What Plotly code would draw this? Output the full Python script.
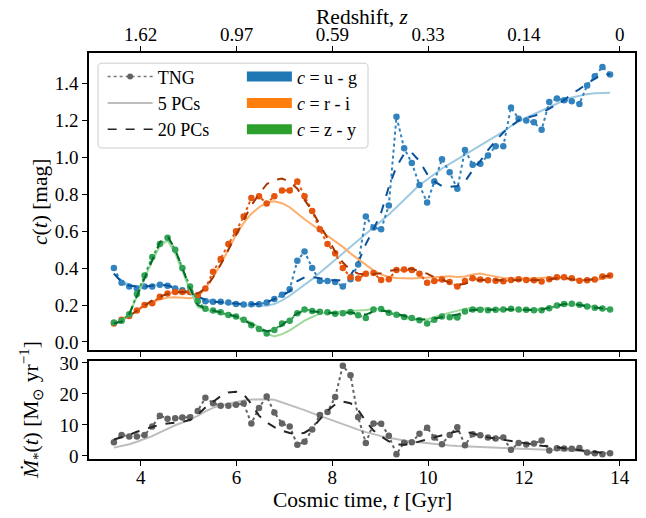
import plotly.graph_objects as go

# Cosmic time grid of the TNG snapshots (Gyr)
t_gyr = [3.44, 3.60, 3.76, 3.92, 4.08, 4.24, 4.40, 4.56, 4.72, 4.87,
         5.03, 5.19, 5.35, 5.51, 5.67, 5.83, 5.99, 6.15, 6.31, 6.47,
         6.63, 6.79, 6.95, 7.11, 7.27, 7.42, 7.58, 7.74, 7.90, 8.06,
         8.22, 8.38, 8.54, 8.70, 8.86, 9.02, 9.18, 9.34, 9.50, 9.66,
         9.82, 9.98, 10.13, 10.29, 10.45, 10.61, 10.77, 10.93, 11.09, 11.25,
         11.41, 11.57, 11.73, 11.89, 12.05, 12.21, 12.37, 12.53, 12.69, 12.84,
         13.00, 13.16, 13.32, 13.48, 13.64, 13.80]

# u - g colour
ug_tng = [0.40, 0.32, 0.30, 0.29, 0.30, 0.30, 0.31, 0.305, 0.29, 0.28,
          0.27, 0.245, 0.22, 0.218, 0.217, 0.213, 0.206, 0.203, 0.204, 0.204,
          0.214, 0.232, 0.256, 0.285, 0.44, 0.49, 0.40, 0.33, 0.33, 0.325,
          0.30, 0.34, 0.42, 0.68, 0.62, 0.61, 0.74, 1.22, 1.05, 0.97,
          0.85, 0.755, 0.87, 0.99, 0.92, 0.83, 1.04, 0.96, 0.965, 1.01,
          1.06, 1.06, 1.27, 1.21, 1.20, 1.19, 1.15, 1.30, 1.32, 1.31,
          1.305, 1.29, 1.39, 1.44, 1.49, 1.45]
ug_pc5 = [0.37, 0.33, 0.31, 0.30, 0.30, 0.305, 0.31, 0.305, 0.29, 0.275,
          0.26, 0.245, 0.232, 0.222, 0.214, 0.207, 0.202, 0.198, 0.196, 0.195,
          0.196, 0.205, 0.225, 0.25, 0.28, 0.31, 0.34, 0.375, 0.41, 0.445,
          0.48, 0.515, 0.55, 0.585, 0.62, 0.655, 0.69, 0.73, 0.77, 0.81,
          0.85, 0.88, 0.91, 0.94, 0.965, 0.99, 1.015, 1.04, 1.065, 1.09,
          1.115, 1.14, 1.17, 1.195, 1.215, 1.235, 1.255, 1.275, 1.295, 1.31,
          1.325, 1.335, 1.343, 1.348, 1.35, 1.35]
ug_pc20 = [0.37, 0.325, 0.305, 0.30, 0.30, 0.305, 0.31, 0.305, 0.295, 0.28,
           0.265, 0.245, 0.228, 0.218, 0.214, 0.21, 0.207, 0.205, 0.204, 0.207,
           0.215, 0.232, 0.25, 0.275, 0.33, 0.35, 0.352, 0.345, 0.337, 0.333,
           0.335, 0.36, 0.43, 0.53, 0.61, 0.70, 0.84, 0.95, 1.02, 1.025,
           0.98, 0.91, 0.87, 0.845, 0.84, 0.845, 0.87, 0.93, 0.98, 1.04,
           1.09, 1.135, 1.17, 1.20, 1.215, 1.225, 1.24, 1.264, 1.29, 1.31,
           1.345, 1.37, 1.40, 1.425, 1.452, 1.45]

# r - i colour
ri_tng = [0.10, 0.12, 0.14, 0.17, 0.20, 0.21, 0.245, 0.262, 0.27, 0.27,
          0.27, 0.253, 0.29, 0.38, 0.45, 0.53, 0.60, 0.68, 0.78, 0.79,
          0.75, 0.79, 0.82, 0.82, 0.87, 0.79, 0.71, 0.61, 0.53, 0.48,
          0.40, 0.35, 0.343, 0.37, 0.374, 0.335, 0.34, 0.39, 0.392, 0.39,
          0.37, 0.32, 0.33, 0.338, 0.325, 0.30, 0.33, 0.345, 0.338, 0.334,
          0.332, 0.329, 0.335, 0.34, 0.336, 0.334, 0.328, 0.34, 0.35, 0.35,
          0.345, 0.332, 0.334, 0.338, 0.355, 0.36]
ri_pc5 = [0.10, 0.115, 0.14, 0.17, 0.195, 0.215, 0.23, 0.24, 0.242, 0.24,
          0.236, 0.245, 0.29, 0.35, 0.42, 0.50, 0.58, 0.645, 0.695, 0.73,
          0.755, 0.762, 0.752, 0.73, 0.695, 0.665, 0.635, 0.605, 0.575, 0.545,
          0.515, 0.48, 0.45, 0.415, 0.388, 0.365, 0.352, 0.347, 0.344, 0.343,
          0.346, 0.349, 0.352, 0.355, 0.356, 0.352, 0.355, 0.365, 0.37, 0.362,
          0.354, 0.347, 0.343, 0.343, 0.343, 0.345, 0.348, 0.349, 0.349, 0.345,
          0.338, 0.334, 0.334, 0.335, 0.342, 0.349]
ri_pc20 = [0.10, 0.115, 0.14, 0.17, 0.20, 0.225, 0.245, 0.26, 0.268, 0.27,
           0.268, 0.262, 0.29, 0.35, 0.42, 0.50, 0.58, 0.66, 0.74, 0.80,
           0.855, 0.878, 0.885, 0.868, 0.83, 0.77, 0.71, 0.635, 0.565, 0.49,
           0.43, 0.39, 0.37, 0.365, 0.368, 0.372, 0.385, 0.392, 0.397, 0.396,
           0.385, 0.37, 0.35, 0.335, 0.32, 0.308, 0.315, 0.328, 0.336, 0.337,
           0.335, 0.334, 0.336, 0.338, 0.336, 0.334, 0.335, 0.338, 0.345, 0.348,
           0.34, 0.334, 0.336, 0.34, 0.352, 0.36]

# z - y colour
zy_tng = [0.105, 0.115, 0.15, 0.26, 0.36, 0.46, 0.53, 0.565, 0.50, 0.40,
          0.30, 0.22, 0.18, 0.17, 0.16, 0.146, 0.137, 0.12, 0.09, 0.07,
          0.045, 0.065, 0.10, 0.115, 0.155, 0.175, 0.168, 0.163, 0.16, 0.152,
          0.155, 0.162, 0.145, 0.13, 0.175, 0.178, 0.158, 0.147, 0.135, 0.13,
          0.117, 0.10, 0.12, 0.138, 0.133, 0.132, 0.165, 0.176, 0.174, 0.172,
          0.174, 0.176, 0.179, 0.176, 0.174, 0.172, 0.172, 0.182, 0.197, 0.205,
          0.207, 0.202, 0.192, 0.185, 0.181, 0.176]
zy_pc5 = [0.10, 0.11, 0.15, 0.25, 0.35, 0.44, 0.52, 0.55, 0.48, 0.38,
          0.28, 0.19, 0.175, 0.165, 0.155, 0.145, 0.133, 0.12, 0.105, 0.08,
          0.045, 0.03, 0.042, 0.062, 0.09, 0.115, 0.135, 0.153, 0.16, 0.162,
          0.163, 0.166, 0.17, 0.173, 0.18, 0.18, 0.163, 0.148, 0.13, 0.121,
          0.12, 0.122, 0.135, 0.148, 0.158, 0.168, 0.18, 0.184, 0.183, 0.181,
          0.179, 0.177, 0.175, 0.173, 0.172, 0.174, 0.178, 0.185, 0.193, 0.20,
          0.203, 0.203, 0.197, 0.188, 0.181, 0.176]
zy_pc20 = [0.10, 0.11, 0.15, 0.25, 0.35, 0.45, 0.54, 0.575, 0.50, 0.40,
           0.29, 0.20, 0.18, 0.17, 0.16, 0.148, 0.138, 0.12, 0.095, 0.075,
           0.058, 0.065, 0.09, 0.125, 0.155, 0.168, 0.166, 0.163, 0.158, 0.155,
           0.157, 0.16, 0.152, 0.148, 0.165, 0.17, 0.163, 0.152, 0.138, 0.13,
           0.123, 0.12, 0.127, 0.135, 0.14, 0.148, 0.163, 0.173, 0.174, 0.173,
           0.174, 0.176, 0.177, 0.176, 0.174, 0.172, 0.175, 0.185, 0.198, 0.205,
           0.207, 0.202, 0.193, 0.186, 0.181, 0.176]

# Star formation rate (Msun / yr)
sfr_tng = [4.4, 6.8, 6.3, 6.3, 6.8, 9.5, 13.0, 12.0, 12.2, 12.4,
           12.5, 14.5, 18.8, 17.0, 16.2, 16.2, 16.5, 16.9, 10.5, 15.5,
           19.2, 14.0, 10.5, 9.5, 3.6, 4.6, 8.5, 13.2, 14.2, 19.0,
           29.1, 26.0, 12.5, 4.2, 10.5, 10.4, 6.5, 0.6, 4.3, 4.4,
           7.2, 9.1, 6.0, 3.8, 6.8, 9.3, 3.5, 7.0, 6.7, 6.0,
           5.6, 6.0, 2.0, 4.2, 3.7, 4.0, 5.0, 1.8, 2.5, 2.4,
           2.3, 2.6, 1.1, 0.9, 0.55, 0.9]
sfr_pc5 = [2.7, 3.2, 3.8, 4.6, 5.4, 6.4, 7.6, 8.8, 9.9, 10.8,
           11.8, 12.9, 14.4, 15.5, 16.3, 16.9, 17.4, 17.9, 18.2, 18.3,
           18.3, 18.1, 17.3, 16.5, 15.7, 14.8, 13.8, 12.9, 12.0, 11.0,
           10.1, 9.3, 8.5, 7.7, 7.0, 6.4, 5.9, 5.4, 5.0, 4.7,
           4.4, 4.1, 3.8, 3.6, 3.4, 3.2, 3.1, 3.0, 2.95, 2.9,
           2.8, 2.75, 2.7, 2.6, 2.5, 2.4, 2.3, 2.2, 2.1, 2.0,
           1.8, 1.6, 1.4, 1.2, 1.05, 0.9]
sfr_pc20 = [5.3, 6.0, 6.8, 7.8, 8.6, 9.5, 10.1, 10.5, 10.8, 11.0,
            11.6, 13.3, 15.6, 17.6, 19.3, 20.5, 20.7, 19.8, 16.8, 13.0,
            10.8, 9.3, 8.2, 7.4, 7.0, 7.5, 9.0, 11.8, 14.6, 16.6,
            17.5, 17.0, 14.8, 11.2, 8.2, 6.3, 4.7, 3.7, 3.6, 4.0,
            4.7, 5.4, 6.1, 6.7, 7.4, 8.0, 7.9, 7.2, 6.6, 6.0,
            5.6, 5.2, 4.8, 4.4, 4.1, 3.7, 3.3, 3.1, 2.8, 2.4,
            2.1, 1.8, 1.5, 1.2, 1.0, 0.9]

# Redshift labels on the top axis
time_ticks = [4, 6, 8, 10, 12, 14]
redshift_labels = ['1.62', '0.97', '0.59', '0.33', '0.14', '0']

FONT = 'Liberation Serif'

# (tng colour, 5 PCs colour, 20 PCs colour, data)
colour_sets = [
    ('#3182bd', '#9ecae1', '#08519c', ug_tng, ug_pc5, ug_pc20),
    ('#e6550d', '#fdae6b', '#a63603', ri_tng, ri_pc5, ri_pc20),
    ('#31a354', '#a1d99b', '#006d2c', zy_tng, zy_pc5, zy_pc20),
]

fig = go.Figure()

# Top panel: colours
for c_tng, c_pc5, c_pc20, y_tng, y_pc5, y_pc20 in colour_sets:
    fig.add_trace(go.Scatter(x=t_gyr, y=y_pc5, mode='lines', xaxis='x2', yaxis='y2',
                             line=dict(color=c_pc5, width=2), showlegend=False))
    fig.add_trace(go.Scatter(x=t_gyr, y=y_tng, mode='lines+markers', xaxis='x2', yaxis='y2',
                             line=dict(color=c_tng, width=2, dash='dot'),
                             marker=dict(color=c_tng, size=6.5), showlegend=False))
    fig.add_trace(go.Scatter(x=t_gyr, y=y_pc20, mode='lines', xaxis='x2', yaxis='y2',
                             line=dict(color=c_pc20, width=2, dash='dash'), showlegend=False))

# Bottom panel: SFR
fig.add_trace(go.Scatter(x=t_gyr, y=sfr_pc5, mode='lines',
                         line=dict(color='#bdbdbd', width=2), showlegend=False))
fig.add_trace(go.Scatter(x=t_gyr, y=sfr_tng, mode='lines+markers',
                         line=dict(color='#636363', width=2, dash='dot'),
                         marker=dict(color='#636363', size=6.5), showlegend=False))
fig.add_trace(go.Scatter(x=t_gyr, y=sfr_pc20, mode='lines',
                         line=dict(color='#252525', width=2, dash='dash'), showlegend=False))

# Legend entries (dummy traces)
fig.add_trace(go.Scatter(x=[None], y=[None], mode='lines+markers', name='TNG', legend='legend',
                         line=dict(color='#777777', width=1.5, dash='dot'),
                         marker=dict(color='#636363', size=6)))
fig.add_trace(go.Scatter(x=[None], y=[None], mode='lines', name='5 PCs', legend='legend',
                         line=dict(color='#bdbdbd', width=2)))
fig.add_trace(go.Scatter(x=[None], y=[None], mode='lines', name='20 PCs', legend='legend',
                         line=dict(color='#252525', width=1.5, dash='dash')))
for name, col in [('<i>c</i> = u - g', '#1f77b4'), ('<i>c</i> = r - i', '#ff7f0e'),
                  ('<i>c</i> = z - y', '#2ca02c')]:
    fig.add_trace(go.Scatter(x=[None], y=[None], mode='lines', name=name, legend='legend2',
                             line=dict(color=col, width=13)))

# Rounded legend frame
x0, x1, y0, y1 = 0.0165, 0.511, 0.766, 0.975
rx, ry = 0.0075, 0.01
frame_path = (f'M{x0+rx},{y0} L{x1-rx},{y0} Q{x1},{y0} {x1},{y0+ry} '
              f'L{x1},{y1-ry} Q{x1},{y1} {x1-rx},{y1} L{x0+rx},{y1} '
              f'Q{x0},{y1} {x0},{y1-ry} L{x0},{y0+ry} Q{x0},{y0} {x0+rx},{y0} Z')
fig.add_shape(type='path', path=frame_path, xref='paper', yref='paper', layer='above',
              fillcolor='rgba(255,255,255,0.8)', line=dict(color='#cccccc', width=1))

axis_common = dict(showline=True, linecolor='black', linewidth=1.5, ticks='outside',
                   ticklen=5, tickwidth=1.2, tickcolor='black', showgrid=False,
                   zeroline=False, automargin=False,
                   tickfont=dict(family=FONT, size=19, color='black'))
title_font = dict(family=FONT, size=21.5, color='black')

# Axis titles as annotations for exact placement
titles = [
    dict(text='Cosmic time, <i>t</i> [Gyr]', x=0.5, y=-0.101, textangle=0),
    dict(text='Redshift, <i>z</i>', x=0.5, y=1.089, textangle=0),
    dict(text='<i>c</i>(<i>t</i>) [mag]', x=-0.09, y=0.635, textangle=-90),
    dict(text='<i>M\u0307</i><sub>*</sub>(<i>t</i>) [M<sub>\u2299</sub> yr<sup>\u22121</sup>]',
         x=-0.106, y=0.121, textangle=-90),
]
for t in titles:
    fig.add_annotation(text=t['text'], x=t['x'], y=t['y'], xref='paper', yref='paper',
                       textangle=t['textangle'], showarrow=False, xanchor='center',
                       yanchor='middle', font=title_font, borderpad=0)

fig.update_layout(
    width=638, height=510,
    margin=dict(l=81, r=11, t=45, b=59),
    plot_bgcolor='white', paper_bgcolor='white',
    font=dict(family=FONT, size=19, color='black'),
    xaxis=dict(domain=[0, 1], range=[2.92, 14.32], tickvals=time_ticks, mirror=True,
               anchor='y', ticklabelstandoff=-5, **axis_common),
    yaxis=dict(domain=[0, 0.242], range=[-0.97, 30.7], tickvals=[0, 10, 20, 30], mirror=True,
               anchor='x', **axis_common),
    xaxis2=dict(domain=[0, 1], range=[2.92, 14.32], tickvals=time_ticks, ticktext=redshift_labels,
                side='top', mirror='ticks', anchor='y2', ticklabelstandoff=-2, **axis_common),
    yaxis2=dict(domain=[0.268, 1], range=[-0.045, 1.566], tickvals=[0, 0.2, 0.4, 0.6, 0.8, 1.0, 1.2, 1.4],
                tickformat='.1f', mirror=True, anchor='x2', **axis_common),
    legend=dict(x=0.025, y=0.987, xanchor='left', yanchor='top', bgcolor='rgba(0,0,0,0)',
                font=dict(family=FONT, size=18, color='black'), itemwidth=45, tracegroupgap=0),
    legend2=dict(x=0.28, y=0.987, xanchor='left', yanchor='top', bgcolor='rgba(0,0,0,0)',
                 font=dict(family=FONT, size=18, color='black'), itemwidth=45, tracegroupgap=0),
)

fig.write_html("out.html")
